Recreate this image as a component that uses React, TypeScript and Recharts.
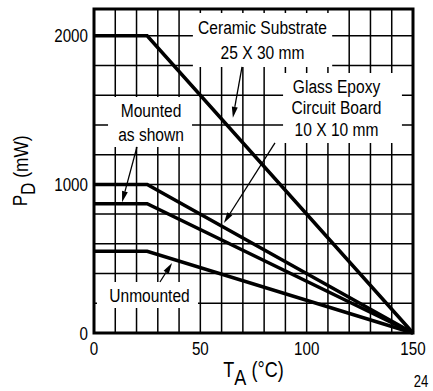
import React from "react";
import {
  LineChart,
  Line,
  CartesianGrid,
  XAxis,
  YAxis,
  ReferenceArea,
  ReferenceLine,
  Label,
} from "recharts";

// ambient temperature breakpoints (°C)
const temps = [0, 25, 150];
// power dissipation (mW) for each mounting
const ceramic = [2000, 2000, 0];
const glassEpoxy = [1000, 1000, 0];
const mountedAsShown = [870, 870, 0];
const unmounted = [550, 550, 0];

const xGrid = [0, 10, 20, 30, 40, 50, 60, 70, 80, 90, 100, 110, 120, 130, 140, 150];
const yGrid = [0, 200, 400, 600, 800, 1000, 1200, 1400, 1600, 1800, 2000];
const xLabels = [0, 50, 100, 150];
const yLabels = [0, 1000, 2000];
const yMax = 2180;

const data = temps.map((t, i) => ({
  t,
  ceramic: ceramic[i],
  glassEpoxy: glassEpoxy[i],
  mountedAsShown: mountedAsShown[i],
  unmounted: unmounted[i],
}));

// callout boxes, in data units
const notes = [
  { lines: ["Ceramic Substrate", "25 X 30 mm"], x1: 46.5, x2: 112, y1: 1790, y2: 2153, gap: 25, dx: 0 },
  { lines: ["Glass Epoxy", "Circuit Board", "10 X 10 mm"], x1: 88.9, x2: 144.8, y1: 1279, y2: 1750, gap: 21.7, dx: -6 },
  { lines: ["Mounted", "as shown"], x1: 6.6, x2: 46.1, y1: 1252, y2: 1588, gap: 24, dx: 1 },
  { lines: ["Unmounted"], x1: 1.4, x2: 48.9, y1: 168, y2: 343, gap: 0, dx: 2 },
];

const arrows = [
  { from: [69.6, 1790], to: [65.3, 1448] },
  { from: [85.1, 1279], to: [61.1, 740] },
  { from: [20.2, 1252], to: [13.2, 880] },
  { from: [31.0, 343], to: [36.7, 471] },
];

// Arial metrics squeezed horizontally to look like Arial Narrow
const FONT = "'Liberation Sans', Arial, sans-serif";
const SQUEEZE = 0.82;

const Narrow = ({ x, y, children, anchor = "middle", size = 18, dy, baseline }: any) => (
  <text
    transform={`translate(${x},${y}) scale(${SQUEEZE},1)`}
    x={0}
    y={0}
    dy={dy}
    textAnchor={anchor}
    dominantBaseline={baseline}
    fontSize={size}
    fontFamily={FONT}
    fill="#000"
  >
    {children}
  </text>
);

const XTick = (p: any) => {
  const v = p.payload.value;
  if (!xLabels.includes(v)) return null;
  return <Narrow x={p.x} y={p.y} dy="0.71em" size={18.5}>{String(v)}</Narrow>;
};

const YTick = (p: any) => {
  const v = p.payload.value;
  if (!yLabels.includes(v)) return null;
  return <Narrow x={p.x} y={p.y} dy="0.355em" anchor="end" size={18.5}>{String(v)}</Narrow>;
};

const ArrowShape = (p: any) => {
  const { x1, y1, x2, y2 } = p;
  const ang = Math.atan2(y2 - y1, x2 - x1);
  const L = 11;
  const W = 3;
  const bx = x2 - L * Math.cos(ang);
  const by = y2 - L * Math.sin(ang);
  const px = -Math.sin(ang);
  const py = Math.cos(ang);
  return (
    <g>
      <line x1={x1} y1={y1} x2={bx} y2={by} stroke="#000" strokeWidth={1.3} />
      <polygon
        points={`${x2},${y2} ${bx + W * px},${by + W * py} ${bx - W * px},${by - W * py}`}
        fill="#000"
      />
    </g>
  );
};

const noteLabel = (lines: string[], gap: number, dx: number) => (props: any) => {
  const vb = props.viewBox;
  const cx = vb.x + vb.width / 2 + dx;
  const cy = vb.y + vb.height / 2;
  const start = cy - ((lines.length - 1) * gap) / 2;
  return (
    <g>
      {lines.map((s, i) => (
        <Narrow key={i} x={cx} y={start + i * gap} baseline="central" size={19}>
          {s}
        </Narrow>
      ))}
    </g>
  );
};

export default function App() {
  return (
    <div style={{ position: "absolute", left: 0, top: 0, background: "#fff" }}>
      <LineChart
        width={433}
        height={391}
        data={data}
        margin={{ top: 9, right: 20, left: 14, bottom: 28 }}
        style={{ fontFamily: FONT }}
      >
        <CartesianGrid stroke="#000" strokeWidth={1.5} />
        <XAxis
          dataKey="t"
          type="number"
          domain={[0, 150]}
          ticks={xGrid}
          interval={0}
          tickLine={false}
          axisLine={false}
          tickSize={0}
          tickMargin={9}
          height={30}
          tick={<XTick />}
        >
          <Label
            content={(p: any) => {
              const vb = p.viewBox;
              const cx = vb.x + vb.width / 2;
              return (
                <g>
                  <Narrow x={cx} y={377} size={22}>
                    T<tspan dy={8}>A</tspan>
                    <tspan dy={-8}> (°C)</tspan>
                  </Narrow>
                  <Narrow x={421} y={387} size={16}>24</Narrow>
                </g>
              );
            }}
          />
        </XAxis>
        <YAxis
          type="number"
          domain={[0, yMax]}
          ticks={yGrid}
          interval={0}
          tickLine={false}
          axisLine={false}
          tickSize={0}
          tickMargin={6}
          width={80}
          tick={<YTick />}
        >
          <Label
            content={(p: any) => {
              const vb = p.viewBox;
              const cx = vb.x + 6;
              const cy = vb.y + vb.height / 2;
              return (
                <g transform={`rotate(-90 ${cx} ${cy})`}>
                  <Narrow x={cx} y={cy} size={21} baseline="central">
                    P<tspan dy={7}>D</tspan>
                    <tspan dy={-7}> (mW)</tspan>
                  </Narrow>
                </g>
              );
            }}
          />
        </YAxis>

        {notes.map((n, i) => (
          <ReferenceArea
            key={"n" + i}
            x1={n.x1}
            x2={n.x2}
            y1={n.y1}
            y2={n.y2}
            fill="#fff"
            fillOpacity={1}
            stroke="none"
            label={noteLabel(n.lines, n.gap, n.dx)}
          />
        ))}

        {arrows.map((a, i) => (
          <ReferenceLine
            key={"a" + i}
            segment={[
              { x: a.from[0], y: a.from[1] },
              { x: a.to[0], y: a.to[1] },
            ]}
            ifOverflow="visible"
            shape={ArrowShape}
          />
        ))}

        <Line type="linear" dataKey="ceramic" stroke="#000" strokeWidth={3.5} dot={false} isAnimationActive={false} />
        <Line type="linear" dataKey="glassEpoxy" stroke="#000" strokeWidth={3.5} dot={false} isAnimationActive={false} />
        <Line type="linear" dataKey="mountedAsShown" stroke="#000" strokeWidth={3.5} dot={false} isAnimationActive={false} />
        <Line type="linear" dataKey="unmounted" stroke="#000" strokeWidth={3.5} dot={false} isAnimationActive={false} />

        <ReferenceArea x1={0} x2={150} y1={0} y2={yMax} fill="none" stroke="#000" strokeWidth={3} ifOverflow="visible" />
      </LineChart>
    </div>
  );
}
